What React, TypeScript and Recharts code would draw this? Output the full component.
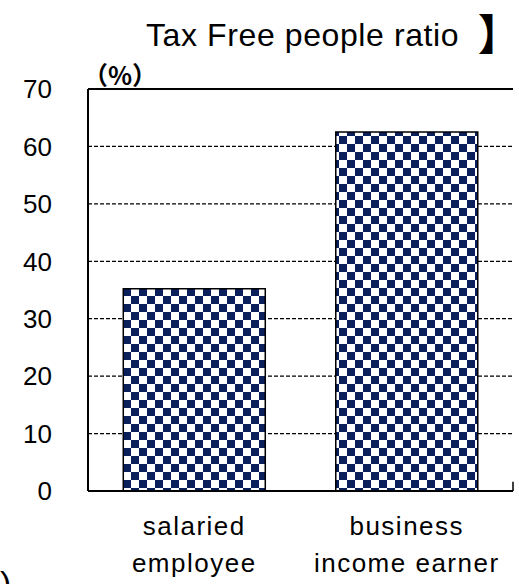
import React from "react";
import {
  BarChart,
  Bar,
  XAxis,
  YAxis,
  CartesianGrid,
  ReferenceLine,
} from "recharts";

// Share of people who pay no income tax, by type of earner
const categories = ["salaried\nemployee", "business\nincome earner"];
const taxFreeRatios = [35.2, 62.5];
const yTicks = [0, 10, 20, 30, 40, 50, 60, 70];

const data = categories.map((category, i) => ({
  category,
  slot: i,
  ratio: taxFreeRatios[i],
}));

const NAVY = "#0b1f5c";
const LATIN = "'Liberation Sans', Arial, 'Noto Sans CJK JP', sans-serif";
const CJK = "'Noto Sans CJK JP', 'Liberation Sans', sans-serif";

const CategoryTick = (props: any) => {
  const { x, y, payload } = props;
  const lines = String(payload.value).split("\n");
  return (
    <g>
      {lines.map((line: string, i: number) => (
        <text
          key={i}
          x={x}
          y={y + 44 + i * 37}
          textAnchor="middle"
          fontSize={26}
          letterSpacing={1.5}
          fontFamily={LATIN}
          fill="#000"
        >
          {line}
        </text>
      ))}
    </g>
  );
};

export default function App() {
  return (
    <div style={{ position: "absolute", left: 0, top: 0, width: 519, height: 584, background: "#fff" }}>
      <BarChart
        width={519}
        height={584}
        data={data}
        margin={{ top: 89, right: 6, bottom: 0, left: 0 }}
        barCategoryGap="16.6%"
      >
        <defs>
          <pattern id="checker" x={123} y={0} width={16} height={16} patternUnits="userSpaceOnUse">
            <rect x={0} y={0} width={16} height={16} fill="#fff" />
            <rect x={0} y={0} width={8} height={8} fill={NAVY} />
            <rect x={8} y={8} width={8} height={8} fill={NAVY} />
          </pattern>
        </defs>
        <CartesianGrid vertical={false} stroke="#000" strokeDasharray="4 2" strokeWidth={1.2} />
        <XAxis
          dataKey="category"
          height={93}
          tickSize={0}
          tickMargin={0}
          tickLine={false}
          axisLine={{ stroke: "#000", strokeWidth: 2 }}
          tick={<CategoryTick />}
          interval={0}
        />
        <XAxis xAxisId="slot" type="number" domain={[0, categories.length]} hide />
        <YAxis
          width={88}
          domain={[0, 70]}
          ticks={yTicks}
          interval={0}
          tickSize={0}
          tickMargin={36}
          tickLine={false}
          axisLine={{ stroke: "#000", strokeWidth: 2 }}
          tick={{ fill: "#000", fontSize: 26, fontFamily: LATIN }}
        />
        <YAxis
          yAxisId="frame"
          orientation="right"
          width={0}
          domain={[0, 70]}
          tick={false}
          tickLine={false}
          axisLine={{ stroke: "#000", strokeWidth: 2 }}
        />
        <ReferenceLine y={70} stroke="#000" strokeWidth={2} />
        <ReferenceLine
          xAxisId="slot"
          segment={[
            { x: 1, y: 0 },
            { x: 1, y: 1.6 },
          ]}
          stroke="#000"
          strokeWidth={1.5}
        />
        <Bar
          dataKey="ratio"
          fill="url(#checker)"
          stroke="#000"
          strokeWidth={1.5}
          isAnimationActive={false}
        />
        <text x={146} y={46} fontSize={32} letterSpacing={0.6} fontFamily={LATIN} fill="#000">
          Tax Free people ratio
        </text>
        <text x={478} y={50} fontSize={42} fontFamily={CJK} fontWeight={900} fill="#000">
          】
        </text>
        <text x={83} y={85} fontSize={25} fontFamily={CJK} fontWeight={700} fill="#000">
          （%）
        </text>
        <text x={0} y={595} fontSize={34} fontFamily={LATIN} fill="#000">
          )
        </text>
      </BarChart>
    </div>
  );
}
